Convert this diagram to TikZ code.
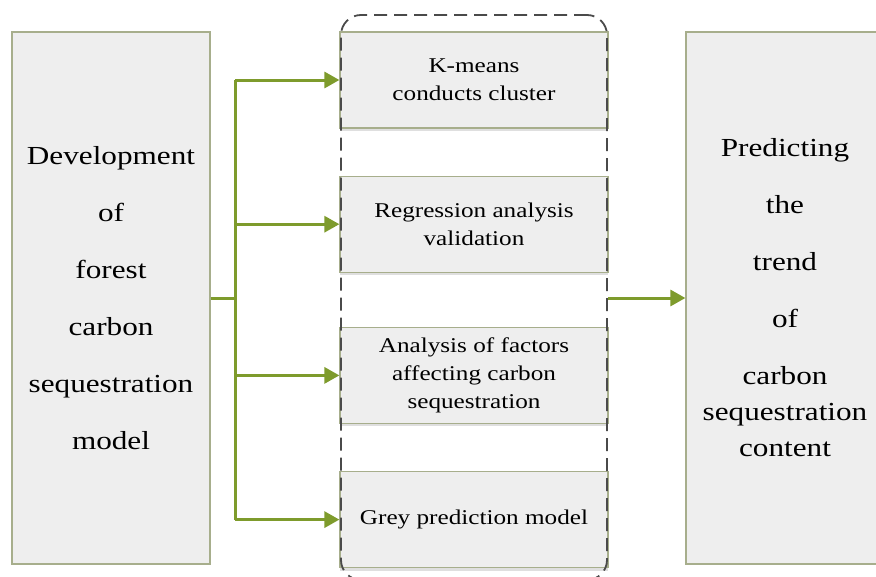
\documentclass[tikz,border=0pt]{standalone}
\usepackage{fontspec}
\setmainfont[FakeStretch=1.2]{Liberation Serif}
\usetikzlibrary{positioning, arrows.meta, shadows}
\definecolor{BoxLine}{HTML}{A7AE8C}
\definecolor{BoxFill}{HTML}{EEEEEE}
\definecolor{LinkGreen}{HTML}{7E9B2C}
\definecolor{GroupGrey}{HTML}{4A4A4A}

\begin{document}
\begin{tikzpicture}[
				x=1pt, y=-1pt,
				node distance=47pt,
				sidebox/.style={
					draw=BoxLine,
					fill=BoxFill,
					line width=1.2pt,
					minimum width=198pt,
					minimum height=532pt,
					inner sep=0pt,
					align=center,
					font=\fontsize{26}{57}\selectfont
				},
				stagebox/.style={
					draw=BoxLine,
					fill=BoxFill,
					line width=1.2pt,
					minimum width=268pt,
					minimum height=96pt,
					inner sep=0pt,
					align=center,
					font=\fontsize{21}{28}\selectfont,
					drop shadow={shadow xshift=0pt, shadow yshift=-3pt, opacity=0.25}
				},
				groupbox/.style={
					draw=GroupGrey,
					dash pattern=on 13pt off 7pt,
					line width=1.8pt,
					rounded corners=20pt,
					minimum width=266pt,
					minimum height=565pt
				},
				linkline/.style={
					draw=LinkGreen,
					line width=3pt
				},
				arrow/.style={
					linkline,
					-{Triangle[length=15pt, width=16pt]}
				}
				]
				\clip (0,0) rectangle (876,576);
				\node[sidebox] (dev) at (111,298) {Development\\of\\forest\\carbon\\sequestration\\model};
				\node[sidebox, font=\fontsize{26}{36}\selectfont] (pred) at (785,298) {Predicting\\[21pt]the\\[21pt]trend\\[21pt]of\\[21pt]carbon\\sequestration\\content};
				\node[stagebox] (km) at (474,80) {K-means\\conducts cluster};
				\node[stagebox, below=of km] (reg) {Regression analysis\\validation};
				\node[stagebox, below=54pt of reg] (fac) {Analysis of factors\\affecting carbon\\sequestration};
				\node[stagebox, below=of fac] (grey) {Grey prediction model};
				\node[groupbox] (stages) at (474,297.5) {};
				\coordinate (split) at (235,298);
				\draw[linkline] (dev.east) -- (split);
				\draw[linkline] (split |- km.west) -- (split |- grey.west);
				\foreach \b in {km, reg, fac, grey}
					\draw[arrow] (split |- \b.west) -- (\b.west);
				\draw[arrow] (stages.east |- pred.west) -- (pred.west);
			\end{tikzpicture}
\end{document}
